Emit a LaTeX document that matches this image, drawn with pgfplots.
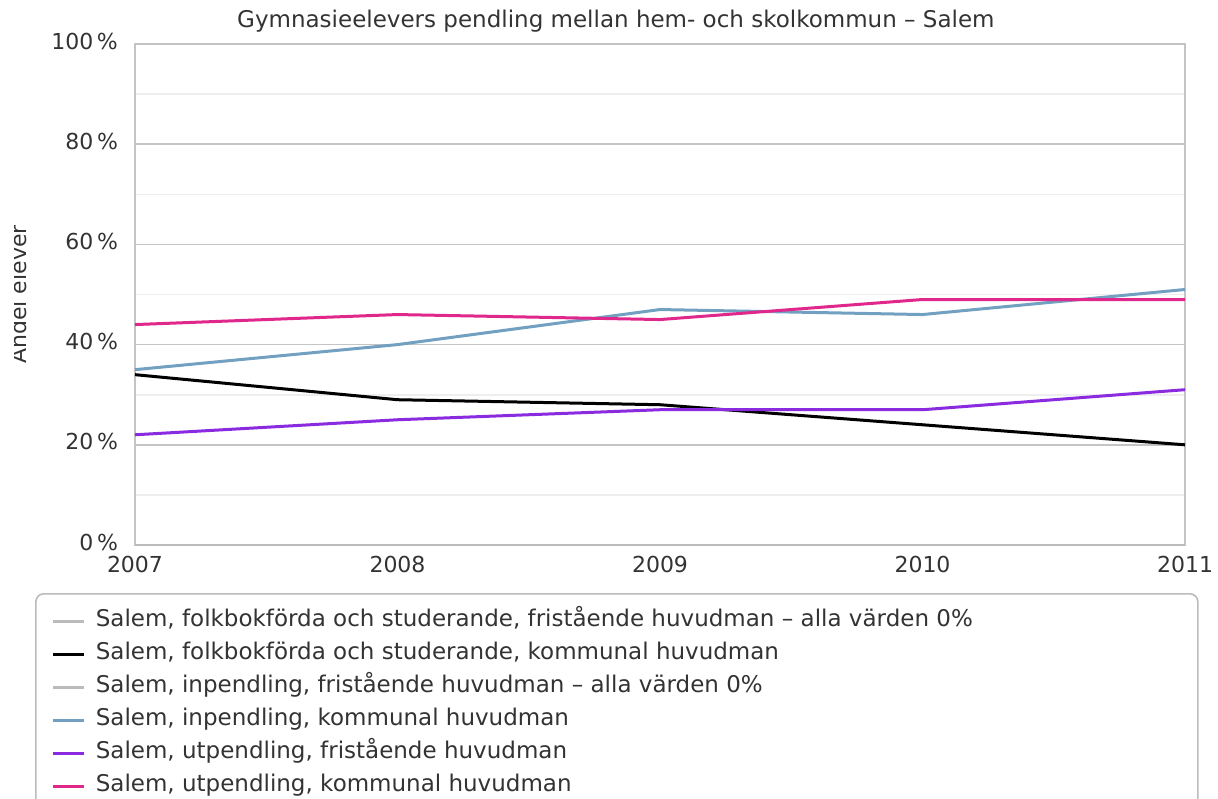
\documentclass[border=0pt]{standalone}
\usepackage{fontspec}
\setmainfont{DejaVu Sans}
\usepackage{pgfplots}
\pgfplotsset{compat=1.18}
\definecolor{cpink}{HTML}{E0288C}
\definecolor{cblue}{HTML}{72A0C0}
\definecolor{cpurple}{HTML}{8B2BE0}
\definecolor{cgray}{HTML}{BBBBBB}
\definecolor{cgrid}{HTML}{C4C4C4}
\definecolor{cminor}{HTML}{EEEEEE}
\definecolor{ctext}{HTML}{333333}
\begin{document}
\begin{tikzpicture}
\path[use as bounding box] (-67.5pt,-126.5pt) rectangle (541.5pt,272.5pt);
\clip (-60pt,-126.5pt) rectangle (541.5pt,272.5pt);
\begin{axis}[
  at={(0,0)}, anchor=south west,
  scale only axis, width=525pt, height=250.5pt,
  xmin=2007, xmax=2011, ymin=0, ymax=100,
  xtick={2007,2008,2009,2010,2011},
  xticklabels={2007,2008,2009,2010,2011},
  ytick={0,20,40,60,80,100},
  yticklabels={0\,\%,20\,\%,40\,\%,60\,\%,80\,\%,100\,\%},
  minor ytick={10,30,50,70,90},
  ymajorgrids, yminorgrids,
  major grid style={cgrid, line width=0.8pt},
  minor grid style={cminor, line width=0.8pt},
  axis line style={cgrid, line width=1pt},
  major tick length=0pt, minor tick length=0pt,
  tick label style={font=\fontsize{11}{13}\selectfont, text=ctext},
  yticklabel style={anchor=east, xshift=-5pt, yshift=1.5pt},
  xticklabel style={anchor=north, yshift=-2pt},
  title={Gymnasieelevers pendling mellan hem- och skolkommun -- Salem},
  title style={at={(axis description cs:0.458,1.008)}, anchor=base, font=\fontsize{11.5}{13}\selectfont, text=ctext},
  ylabel={Andel elever},
  ylabel style={at={(axis description cs:-0.1029,0.5)}, anchor=base, font=\fontsize{11}{13}\selectfont, text=ctext},
  legend style={at={(axis description cs:-0.0952,-0.0958)}, anchor=north west,
    draw=cgray, line width=0.8pt, rounded corners=4pt,
    inner xsep=8pt, inner ysep=8pt, row sep=5pt, column sep=5pt,
    font=\fontsize{11.5}{13}\selectfont, text=ctext,
    nodes={inner sep=0pt, text height=8.5pt, text depth=3pt}},
  legend cell align=left,
  legend image code/.code={\draw[#1, line width=1.5pt, rounded corners=0pt] (0pt,0pt) -- (15.5pt,0pt);},
  every axis plot/.append style={line width=1.5pt, line join=round},
]
\addplot[cgray, no marks] coordinates {(2007,0) (2008,0) (2009,0) (2010,0) (2011,0)};
\addlegendentry{\makebox[543pt][l]{Salem, folkbokförda och studerande, fristående huvudman -- alla värden 0\%}}
\addplot[black, no marks] coordinates {(2007,34) (2008,29) (2009,28) (2010,24) (2011,20)};
\addlegendentry{Salem, folkbokförda och studerande, kommunal huvudman}
\addplot[cgray, no marks] coordinates {(2007,0) (2008,0) (2009,0) (2010,0) (2011,0)};
\addlegendentry{Salem, inpendling, fristående huvudman -- alla värden 0\%}
\addplot[cblue, no marks] coordinates {(2007,35) (2008,40) (2009,47) (2010,46) (2011,51)};
\addlegendentry{Salem, inpendling, kommunal huvudman}
\addplot[cpurple, no marks] coordinates {(2007,22) (2008,25) (2009,27) (2010,27) (2011,31)};
\addlegendentry{Salem, utpendling, fristående huvudman}
\addplot[cpink, no marks] coordinates {(2007,44) (2008,46) (2009,45) (2010,49) (2011,49)};
\addlegendentry{Salem, utpendling, kommunal huvudman}
\end{axis}
\end{tikzpicture}
\end{document}
